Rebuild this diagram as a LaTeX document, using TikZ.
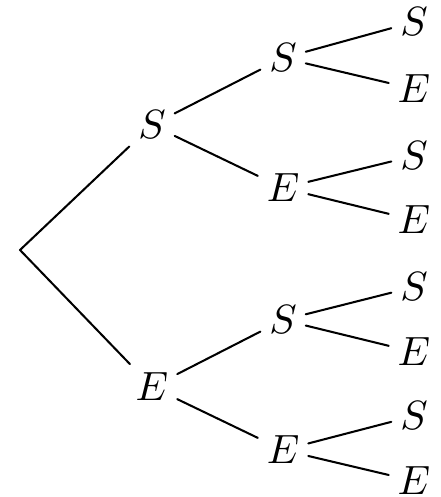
\documentclass[tikz,border=0pt]{standalone}

\begin{document}
\begin{tikzpicture}[line cap=round,line join=round,every node/.style={inner sep=2pt}]
  \useasboundingbox (0,0) rectangle (3.784,4.274);
  \coordinate (O) at (0.172,2.124);
  \node (s) at (1.307,3.199) {$S$};
  \node (e) at (1.307,0.946) {$E$};
  \node (ss) at (2.434,3.775) {$S$};
  \node (se) at (2.434,2.657) {$E$};
  \node (es) at (2.434,1.522) {$S$};
  \node (ee) at (2.434,0.404) {$E$};
  \node (sss) at (3.560,4.085) {$S$};
  \node (sse) at (3.560,3.509) {$E$};
  \node (ses) at (3.560,2.933) {$S$};
  \node (see) at (3.560,2.382) {$E$};
  \node (ess) at (3.560,1.806) {$S$};
  \node (ese) at (3.560,1.247) {$E$};
  \node (ees) at (3.560,0.697) {$S$};
  \node (eee) at (3.560,0.138) {$E$};
  \draw[line width=0.5pt] (s) -- (O) -- (e);
  \draw[line width=0.5pt] (ss) -- (s) -- (se);
  \draw[line width=0.5pt] (es) -- (e) -- (ee);
  \draw[line width=0.5pt] (sss) -- (ss) -- (sse);
  \draw[line width=0.5pt] (ses) -- (se) -- (see);
  \draw[line width=0.5pt] (ess) -- (es) -- (ese);
  \draw[line width=0.5pt] (ees) -- (ee) -- (eee);
\end{tikzpicture}
\end{document}
